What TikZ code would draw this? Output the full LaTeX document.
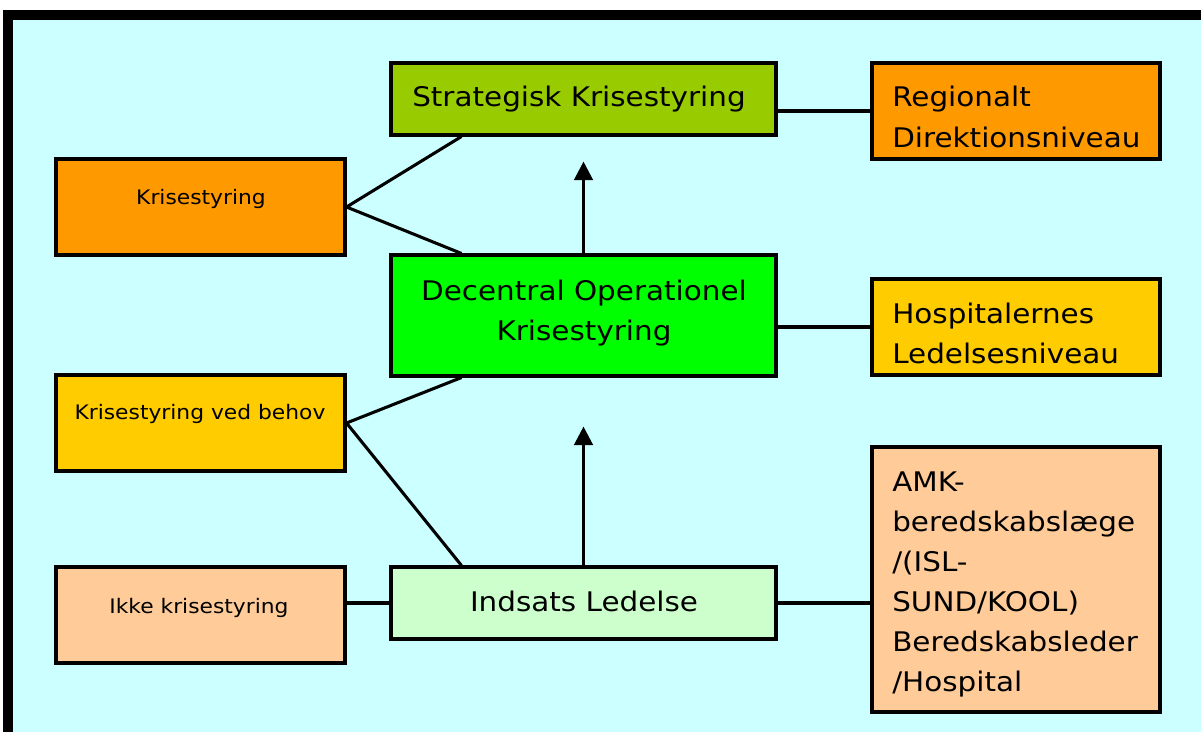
\documentclass[tikz,border=0pt]{standalone}
\usepackage{fontspec}
\setmainfont[FakeStretch=1.09]{DejaVu Sans}
\usetikzlibrary{fit,calc,arrows.meta}
\definecolor{bgc}{HTML}{CCFFFF}
\definecolor{cstrat}{HTML}{99CC00}
\definecolor{corange}{HTML}{FF9900}
\definecolor{cgreen}{HTML}{00FF00}
\definecolor{cyellow}{HTML}{FFCC00}
\definecolor{cpeach}{HTML}{FFCC99}
\definecolor{clight}{HTML}{CCFFCC}
\tikzset{
  box/.style={draw=black, line width=2.3pt, inner sep=0pt, rectangle},
  conn/.style={draw=black, line width=2.3pt},
  arr/.style={conn, -{Triangle[length=14pt,width=14pt]}},
  bigtxt/.style={font=\fontsize{20.25pt}{30pt}\selectfont, inner sep=0pt, anchor=base},
  bigleft/.style={bigtxt, anchor=base west},
  smalltxt/.style={font=\fontsize{15pt}{20pt}\selectfont, inner sep=0pt, anchor=base},
}
\begin{document}
\begin{tikzpicture}[x=0.75pt,y=-0.75pt]
\useasboundingbox (0,0) rectangle (1201,731);
\clip (0,0) rectangle (1201,731);
\fill[white] (0,0) rectangle (1201,731);
\draw[line width=7pt, fill=bgc] (8,15) rectangle (1230,760);

% boxes
\node[box, fill=cstrat, fit={(391,63)(776,135)}] (strat) {};
\node[box, fill=corange, fit={(872,63)(1160,159)}] (reg) {};
\node[box, fill=corange, fit={(56,159)(345,255)}] (kris) {};
\node[box, fill=cgreen, fit={(391,255)(776,376)}] (dec) {};
\node[box, fill=cyellow, fit={(872,279)(1160,375)}] (hosp) {};
\node[box, fill=cyellow, fit={(56,375)(345,471)}] (behov) {};
\node[box, fill=cpeach, fit={(56,567)(345,663)}] (ikke) {};
\node[box, fill=clight, fit={(391,567)(776,639)}] (inds) {};
\node[box, fill=cpeach, fit={(872,447)(1160,712)}] (amk) {};

% texts
\node[bigtxt] (tstrat) at (579,107) {Strategisk Krisestyring};
\node[bigleft] (treg1) at (892,107) {Regionalt};
\node[bigleft] (treg2) at (892,147) {Direktionsniveau};
\node[smalltxt] (tkris) at (201,204) {Krisestyring};
\node[bigtxt] (tdec1) at (584,300) {Decentral Operationel};
\node[bigtxt] (tdec2) at (584,340) {Krisestyring};
\node[bigleft] (thosp1) at (892,323) {Hospitalernes};
\node[bigleft] (thosp2) at (892,363) {Ledelsesniveau};
\node[smalltxt] (tbehov) at (200,419) {Krisestyring ved behov};
\node[smalltxt] (tikke) at (199,613) {Ikke krisestyring};
\node[bigtxt] (tinds) at (584,611) {Indsats Ledelse};
\node[bigleft] (tamk1) at (892,491) {AMK-};
\node[bigleft] (tamk2) at (892,531) {beredskabslæge};
\node[bigleft] (tamk3) at (892,571) {/(ISL-};
\node[bigleft] (tamk4) at (892,611) {SUND/KOOL)};
\node[bigleft] (tamk5) at (892,651) {Beredskabsleder};
\node[bigleft] (tamk6) at (892,691) {/Hospital};

% connectors
\coordinate (tip1) at ($(strat.south)+(0,25)$);
\coordinate (tip2) at ($(dec.south)+(0,49)$);
\draw[conn] (strat.east |- reg.west) -- (reg.west);
\draw[conn] ($(strat.south west)+(72,0)$) -- (kris.east) -- ($(dec.north west)+(72,0)$);
\draw[arr] (dec.north) -- (tip1);
\draw[conn] (dec.east |- hosp.west) -- (hosp.west);
\draw[conn] ($(dec.south west)+(72,0)$) -- (behov.east) -- ($(inds.north west)+(72,0)$);
\draw[arr] (inds.north) -- (tip2);
\draw[conn] (ikke.east |- inds.west) -- (inds.west);
\draw[conn] (inds.east) -- (amk.west |- inds.east);
\end{tikzpicture}
\end{document}
